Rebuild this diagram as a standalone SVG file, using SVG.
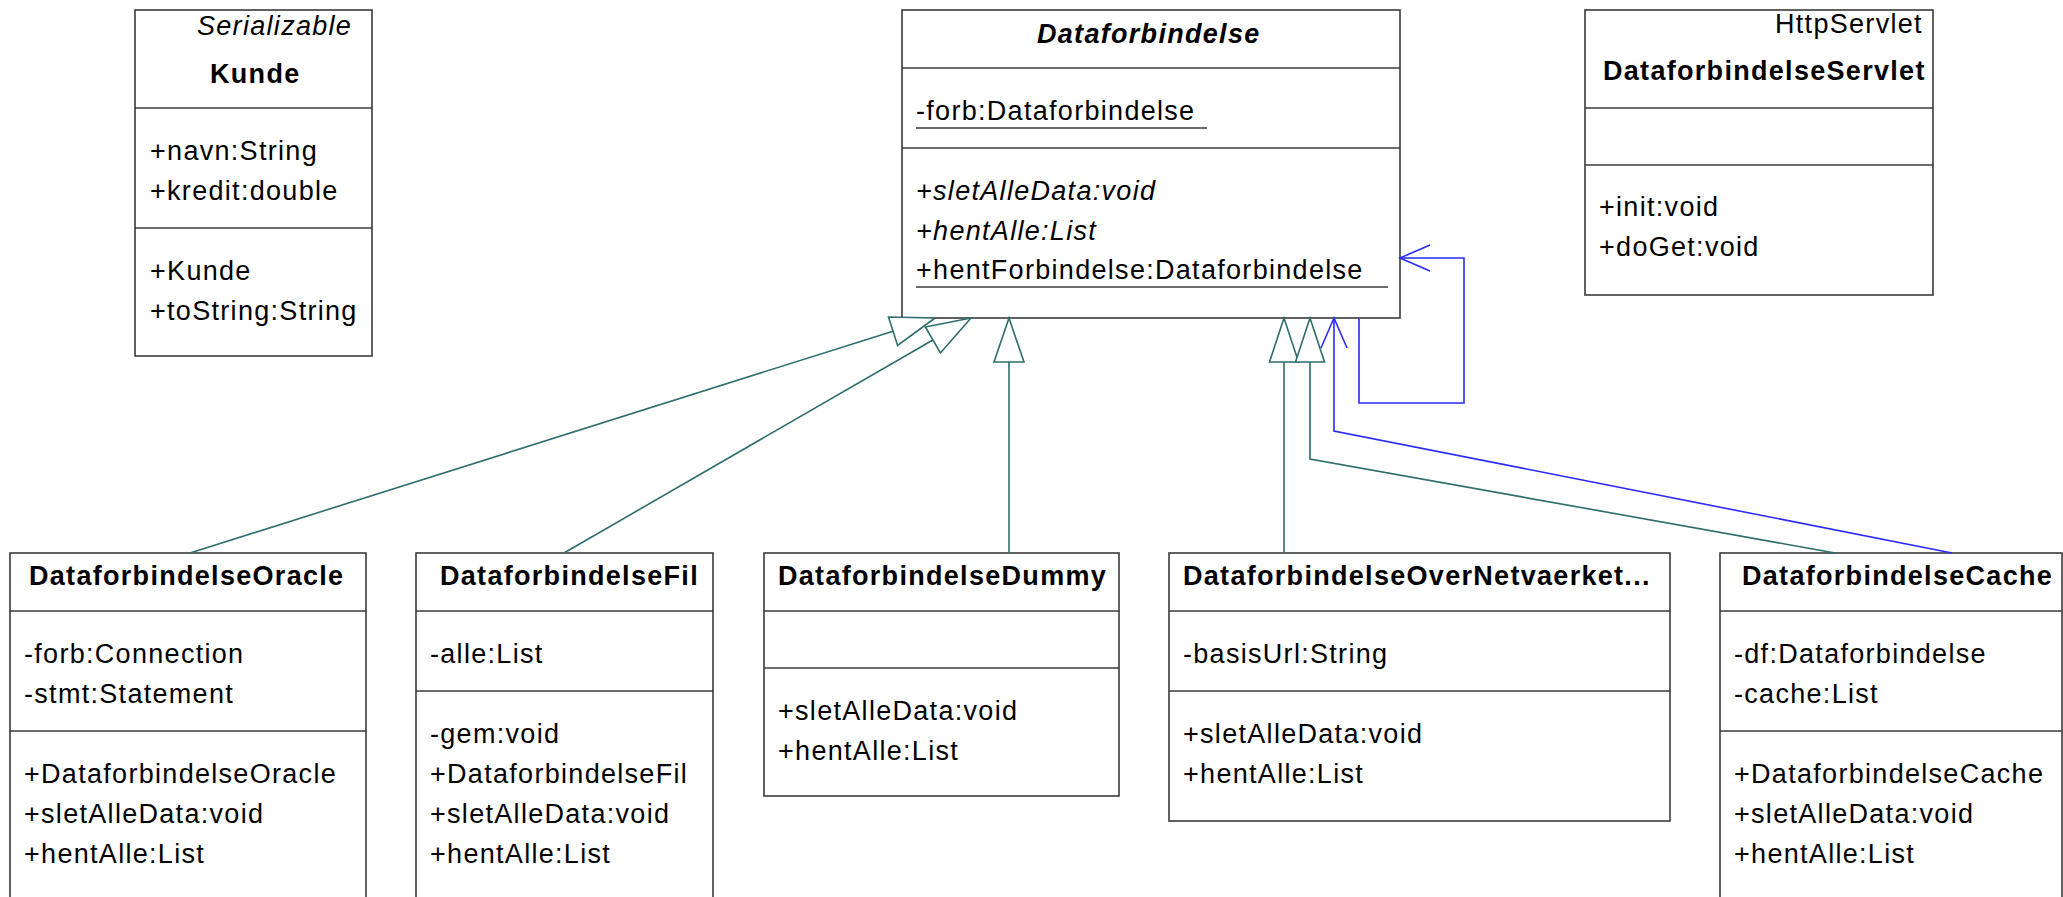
<svg xmlns="http://www.w3.org/2000/svg" width="2063" height="897" viewBox="0 0 2063 897">
  <style>
    .box { fill: #ffffff; stroke: #3a3a3a; stroke-width: 1.6; }
    .sep { stroke: #3a3a3a; stroke-width: 1.6; }
    .ul { stroke: #3a3a3a; stroke-width: 1.4; }
    text { font-family: "Liberation Sans", Arial, sans-serif; font-size: 27px; letter-spacing: 1.3px; fill: #000000; }
    .title { font-weight: bold; }
    .it { font-style: italic; }
    .gen { fill: none; stroke: #2f6d6d; stroke-width: 1.6; }
    .tri { fill: #ffffff; stroke: #2f6d6d; stroke-width: 1.6; stroke-linejoin: miter; }
    .assoc { fill: none; stroke: #2a2aff; stroke-width: 1.6; }
  </style>

  <!-- Kunde -->
  <g id="kunde">
    <rect class="box" x="135" y="10" width="237" height="346"/>
    <line class="sep" x1="135" y1="108" x2="372" y2="108"/>
    <line class="sep" x1="135" y1="228" x2="372" y2="228"/>
    <text class="it" x="197" y="35">Serializable</text>
    <text class="title" x="210" y="83">Kunde</text>
    <text x="150" y="160">+navn:String</text>
    <text x="150" y="200">+kredit:double</text>
    <text x="150" y="280">+Kunde</text>
    <text x="150" y="320">+toString:String</text>
  </g>

  <!-- Dataforbindelse (abstract) -->
  <g id="dataforbindelse">
    <rect class="box" x="902" y="10" width="498" height="308"/>
    <line class="sep" x1="902" y1="68" x2="1400" y2="68"/>
    <line class="sep" x1="902" y1="148" x2="1400" y2="148"/>
    <text class="title it" x="1037" y="43">Dataforbindelse</text>
    <text x="916" y="120">-forb:Dataforbindelse</text>
    <line class="ul" x1="916" y1="128" x2="1207" y2="128"/>
    <text class="it" x="916" y="200">+sletAlleData:void</text>
    <text class="it" x="916" y="240">+hentAlle:List</text>
    <text x="916" y="279">+hentForbindelse:Dataforbindelse</text>
    <line class="ul" x1="916" y1="287" x2="1388" y2="287"/>
  </g>

  <!-- DataforbindelseServlet -->
  <g id="servlet">
    <rect class="box" x="1585" y="10" width="348" height="285"/>
    <line class="sep" x1="1585" y1="108" x2="1933" y2="108"/>
    <line class="sep" x1="1585" y1="165" x2="1933" y2="165"/>
    <text x="1775" y="33">HttpServlet</text>
    <text class="title" x="1603" y="80">DataforbindelseServlet</text>
    <text x="1599" y="216">+init:void</text>
    <text x="1599" y="256">+doGet:void</text>
  </g>

  <!-- DataforbindelseOracle -->
  <g id="oracle">
    <rect class="box" x="10" y="553" width="356" height="360"/>
    <line class="sep" x1="10" y1="611" x2="366" y2="611"/>
    <line class="sep" x1="10" y1="731" x2="366" y2="731"/>
    <text class="title" x="29" y="585">DataforbindelseOracle</text>
    <text x="24" y="663">-forb:Connection</text>
    <text x="24" y="703">-stmt:Statement</text>
    <text x="24" y="783">+DataforbindelseOracle</text>
    <text x="24" y="823">+sletAlleData:void</text>
    <text x="24" y="863">+hentAlle:List</text>
  </g>

  <!-- DataforbindelseFil -->
  <g id="fil">
    <rect class="box" x="416" y="553" width="297" height="360"/>
    <line class="sep" x1="416" y1="611" x2="713" y2="611"/>
    <line class="sep" x1="416" y1="691" x2="713" y2="691"/>
    <text class="title" x="440" y="585">DataforbindelseFil</text>
    <text x="430" y="663">-alle:List</text>
    <text x="430" y="743">-gem:void</text>
    <text x="430" y="783">+DataforbindelseFil</text>
    <text x="430" y="823">+sletAlleData:void</text>
    <text x="430" y="863">+hentAlle:List</text>
  </g>

  <!-- DataforbindelseDummy -->
  <g id="dummy">
    <rect class="box" x="764" y="553" width="355" height="243"/>
    <line class="sep" x1="764" y1="611" x2="1119" y2="611"/>
    <line class="sep" x1="764" y1="668" x2="1119" y2="668"/>
    <text class="title" x="778" y="585">DataforbindelseDummy</text>
    <text x="778" y="720">+sletAlleData:void</text>
    <text x="778" y="760">+hentAlle:List</text>
  </g>

  <!-- DataforbindelseOverNetvaerket -->
  <g id="overnet">
    <rect class="box" x="1169" y="553" width="501" height="268"/>
    <line class="sep" x1="1169" y1="611" x2="1670" y2="611"/>
    <line class="sep" x1="1169" y1="691" x2="1670" y2="691"/>
    <text class="title" x="1183" y="585">DataforbindelseOverNetvaerket...</text>
    <text x="1183" y="663">-basisUrl:String</text>
    <text x="1183" y="743">+sletAlleData:void</text>
    <text x="1183" y="783">+hentAlle:List</text>
  </g>

  <!-- DataforbindelseCache -->
  <g id="cache">
    <rect class="box" x="1720" y="553" width="342" height="360"/>
    <line class="sep" x1="1720" y1="611" x2="2062" y2="611"/>
    <line class="sep" x1="1720" y1="731" x2="2062" y2="731"/>
    <text class="title" x="1742" y="585">DataforbindelseCache</text>
    <text x="1734" y="663">-df:Dataforbindelse</text>
    <text x="1734" y="703">-cache:List</text>
    <text x="1734" y="783">+DataforbindelseCache</text>
    <text x="1734" y="823">+sletAlleData:void</text>
    <text x="1734" y="863">+hentAlle:List</text>
  </g>

  <!-- generalizations and associations -->
  <g id="connectors">
    <!-- Oracle -> Dataforbindelse -->
    <line class="gen" x1="190" y1="553" x2="893" y2="331.2"/>
    <polygon class="tri" points="935,318 897.6,345.5 888.5,317"/>
    <!-- Fil -> Dataforbindelse -->
    <line class="gen" x1="564" y1="553" x2="932.9" y2="340"/>
    <polygon class="tri" points="971,318 940.4,353 925.4,327"/>
    <!-- Dummy -> Dataforbindelse -->
    <line class="gen" x1="1009" y1="553" x2="1009" y2="362"/>
    <polygon class="tri" points="1009,318 994,362 1024,362"/>
    <!-- OverNetvaerket -> Dataforbindelse -->
    <line class="gen" x1="1284" y1="553" x2="1284" y2="362"/>
    <polygon class="tri" points="1284,318 1269.5,362 1298.5,362"/>
    <!-- Cache -> Dataforbindelse -->
    <polyline class="gen" points="1835,553 1310,459 1310,362"/>
    <polygon class="tri" points="1310,318 1295.5,362 1324.5,362"/>
    <!-- Cache.df association -->
    <polyline class="assoc" points="1952,553 1334,431 1334,318"/>
    <polyline class="assoc" points="1321,348 1334,318 1347,348"/>
    <!-- Dataforbindelse.forb self association -->
    <polyline class="assoc" points="1359,318 1359,403 1464,403 1464,258 1400,258"/>
    <polyline class="assoc" points="1430,245 1400,258 1430,271"/>
  </g>
</svg>
